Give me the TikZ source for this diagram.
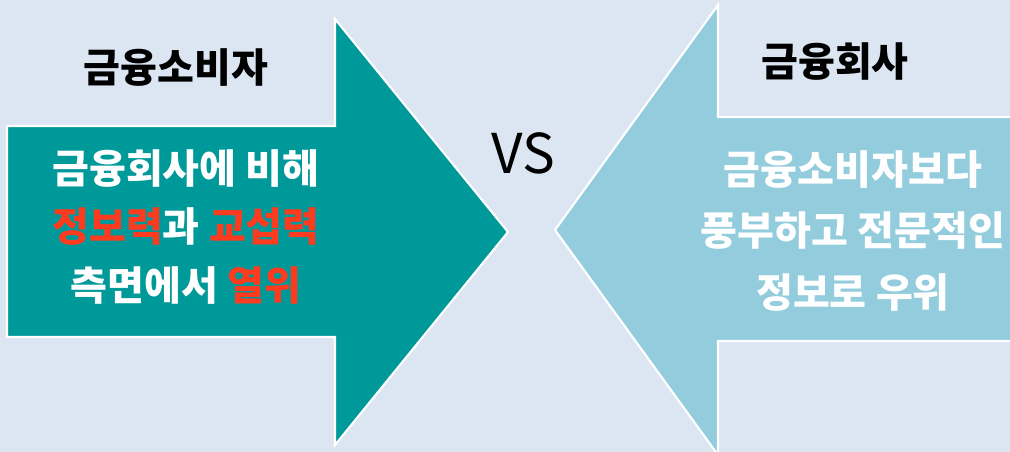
\documentclass[tikz,border=0pt]{standalone}
\usepackage{fontspec}
\setmainfont{Noto Sans CJK KR}
\definecolor{bgblue}{HTML}{DCE6F2}
\definecolor{tealarrow}{HTML}{009999}
\definecolor{skyarrow}{HTML}{93CDDD}
\definecolor{hotred}{HTML}{FF3B1F}

\begin{document}
\begin{tikzpicture}[x=0.025cm,y=-0.025cm,
		title/.style={font=\bfseries\fontsize{28.5}{32}\selectfont},
		body/.style={align=center,text=white,font=\bfseries\fontsize{28.5}{41.5}\selectfont},
		outline/.style={draw=white,line width=1.5pt}]
		\fill [bgblue] (0,0) rectangle (1010,452);
		\useasboundingbox (0,0) rectangle (1010,452);
		\clip (0,0) rectangle (1010,452);
		\draw [outline,fill=tealarrow] (7,126) -- (335,126) -- (335,19) -- (508,232) -- (335,445) -- (335,337) -- (7,337) -- cycle;
		\draw [outline,fill=skyarrow] (1020,117) -- (718,117) -- (718,5) -- (555,230) -- (718,455) -- (718,341) -- (1020,341);
		\node [title] at (176,68) (consumer) {금융소비자};
		\node [title] at (835,62) (company) {금융회사};
		\node [font=\fontsize{39}{45}\selectfont] at (523,153) (vs) {VS};
		\node [body] at (186,227) (weak) {금융회사에 비해\\\textcolor{hotred}{정보력}과 \textcolor{hotred}{교섭력}\\측면에서 \textcolor{hotred}{열위}};
		\node [body,font=\bfseries\fontsize{28.5}{44}\selectfont] at (853,231) (strong) {금융소비자보다\\풍부하고 전문적인\\정보로 우위};
	\end{tikzpicture}
\end{document}
